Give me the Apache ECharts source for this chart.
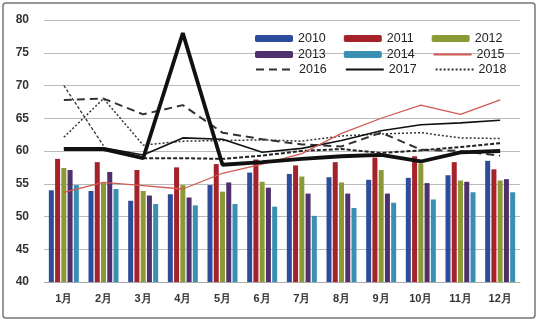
<!DOCTYPE html>
<html><head><meta charset="utf-8">
<script src="https://cdn.jsdelivr.net/npm/echarts@6/dist/echarts.min.js"></script>
<style>html,body{margin:0;padding:0;background:#fff}#c{width:539px;height:322px}</style>
</head><body><div id="c"></div>
<script>
const categories = ['1月','2月','3月','4月','5月','6月','7月','8月','9月','10月','11月','12月'];
const yTicks = [40,45,50,55,60,65,70,75,80];
const s2010 = [54.0, 53.9, 52.4, 53.4, 54.8, 56.7, 56.5, 56.0, 55.6, 55.9, 56.3, 58.5];
const s2011 = [58.8, 58.3, 57.1, 57.5, 58.0, 58.7, 57.8, 58.3, 59.0, 59.2, 58.3, 57.2];
const s2012 = [57.4, 55.1, 53.9, 54.8, 53.8, 55.3, 56.1, 55.2, 57.1, 58.1, 55.5, 55.5];
const s2013 = [57.1, 56.8, 53.2, 52.9, 55.2, 54.4, 53.5, 53.5, 53.5, 55.1, 55.3, 55.7];
const s2014 = [54.8, 54.2, 51.9, 51.7, 51.9, 51.5, 50.1, 51.3, 52.1, 52.6, 53.7, 53.7];
const s2015 = [53.7, 55.2, 54.7, 54.2, 56.6, 58.0, 59.6, 62.7, 65.0, 67.0, 65.6, 67.8];
const s2016 = [67.8, 68.0, 65.6, 67.0, 62.8, 61.8, 61.0, 60.7, 62.8, 60.2, 60.0, 59.3];
const s2017 = [60.5, 60.5, 59.4, 62.0, 61.8, 59.8, 60.4, 61.6, 63.1, 64.0, 64.3, 64.7];
const s2018 = [62.1, 68.0, 60.9, 61.5, 61.6, 61.7, 61.5, 62.3, 62.6, 62.8, 62.0, 61.9];
const extraThick = [60.3, 60.3, 58.9, 78.0, 57.9, 58.3, 58.8, 59.2, 59.4, 58.4, 59.8, 60.0];
const extraShortDash = [null, null, 58.9, 58.9, 58.8, 59.3, 60.0, 60.3, 59.7, 60.1, 60.6, 61.2];
const extraDiag = [70.0, 60.8, null, null, null, null, null, null, null, null, null, null];

const chart = echarts.init(document.getElementById('c'), null, {renderer:'canvas'});
const barColors = ['#2d4c9c','#a5222b','#8b9a36','#4f2f6c','#3a90b2'];
const bar = (name, data, i) => ({name, type:'bar', data, barWidth:5, barGap:'25%',
  itemStyle:{color:barColors[i]}, z:2});
const line = (name, data, color, width, type, z) => ({name, type:'line', data, symbol:'none',
  connectNulls:false, lineStyle:{color, width, type}, itemStyle:{color}, z: z||3});
const legendCommon = {itemWidth:38, itemHeight:7, itemGap:18, left:250,
  textStyle:{fontSize:12.5, color:'#222', fontFamily:'Liberation Sans'}, selectedMode:false};
const lineItem = n => ({name:n, itemStyle:{color:'rgba(0,0,0,0)', borderWidth:0, borderColor:'rgba(0,0,0,0)'}});
chart.setOption({
  animation:false,
  backgroundColor:'#fff',
  graphic:[{type:'rect', shape:{x:3,y:3,width:532,height:315,r:3},
    style:{fill:'none', stroke:'#777', lineWidth:1.5}, z:-1}],
  grid:{left:44, right:19, top:20, bottom:40},
  legend:[
    Object.assign({top:27, data:['2010','2011','2012']}, legendCommon),
    Object.assign({top:43, data:['2013','2014',lineItem('2015')]}, legendCommon),
    Object.assign({top:58, data:[lineItem('2016'),lineItem('2017'),lineItem('2018')]}, legendCommon)
  ],
  xAxis:{type:'category', data:categories, boundaryGap:true,
    axisLine:{lineStyle:{color:'#aaa'}}, axisTick:{show:false},
    axisLabel:{fontSize:11, fontWeight:'bold', color:'#333', margin:11, fontFamily:'Liberation Sans'}},
  yAxis:{type:'value', min:yTicks[0], max:yTicks[yTicks.length-1], interval:5,
    axisLine:{show:false}, axisTick:{show:false},
    splitLine:{lineStyle:{color:'#bbb', width:1}},
    axisLabel:{fontSize:12, fontWeight:'bold', color:'#333', margin:15, fontFamily:'Liberation Sans'}},
  series:[
    bar('2010', s2010, 0), bar('2011', s2011, 1), bar('2012', s2012, 2),
    bar('2013', s2013, 3), bar('2014', s2014, 4),
    line('2015', s2015, '#d05a52', 1.3, 'solid', 6),
    line('2016', s2016, '#333', 2, [8,5], 4),
    line('2017', s2017, '#111', 1.6, 'solid', 5),
    line('2018', s2018, '#333', 1.5, [2,2], 4),
    line('extraShortDash', extraShortDash, '#222', 2, [4,2], 4),
    line('extraDiag', extraDiag, '#333', 1.3, [3,2], 4),
    line('extraThick', extraThick, '#111', 3.8, 'solid', 7)
  ]
});
</script></body></html>
